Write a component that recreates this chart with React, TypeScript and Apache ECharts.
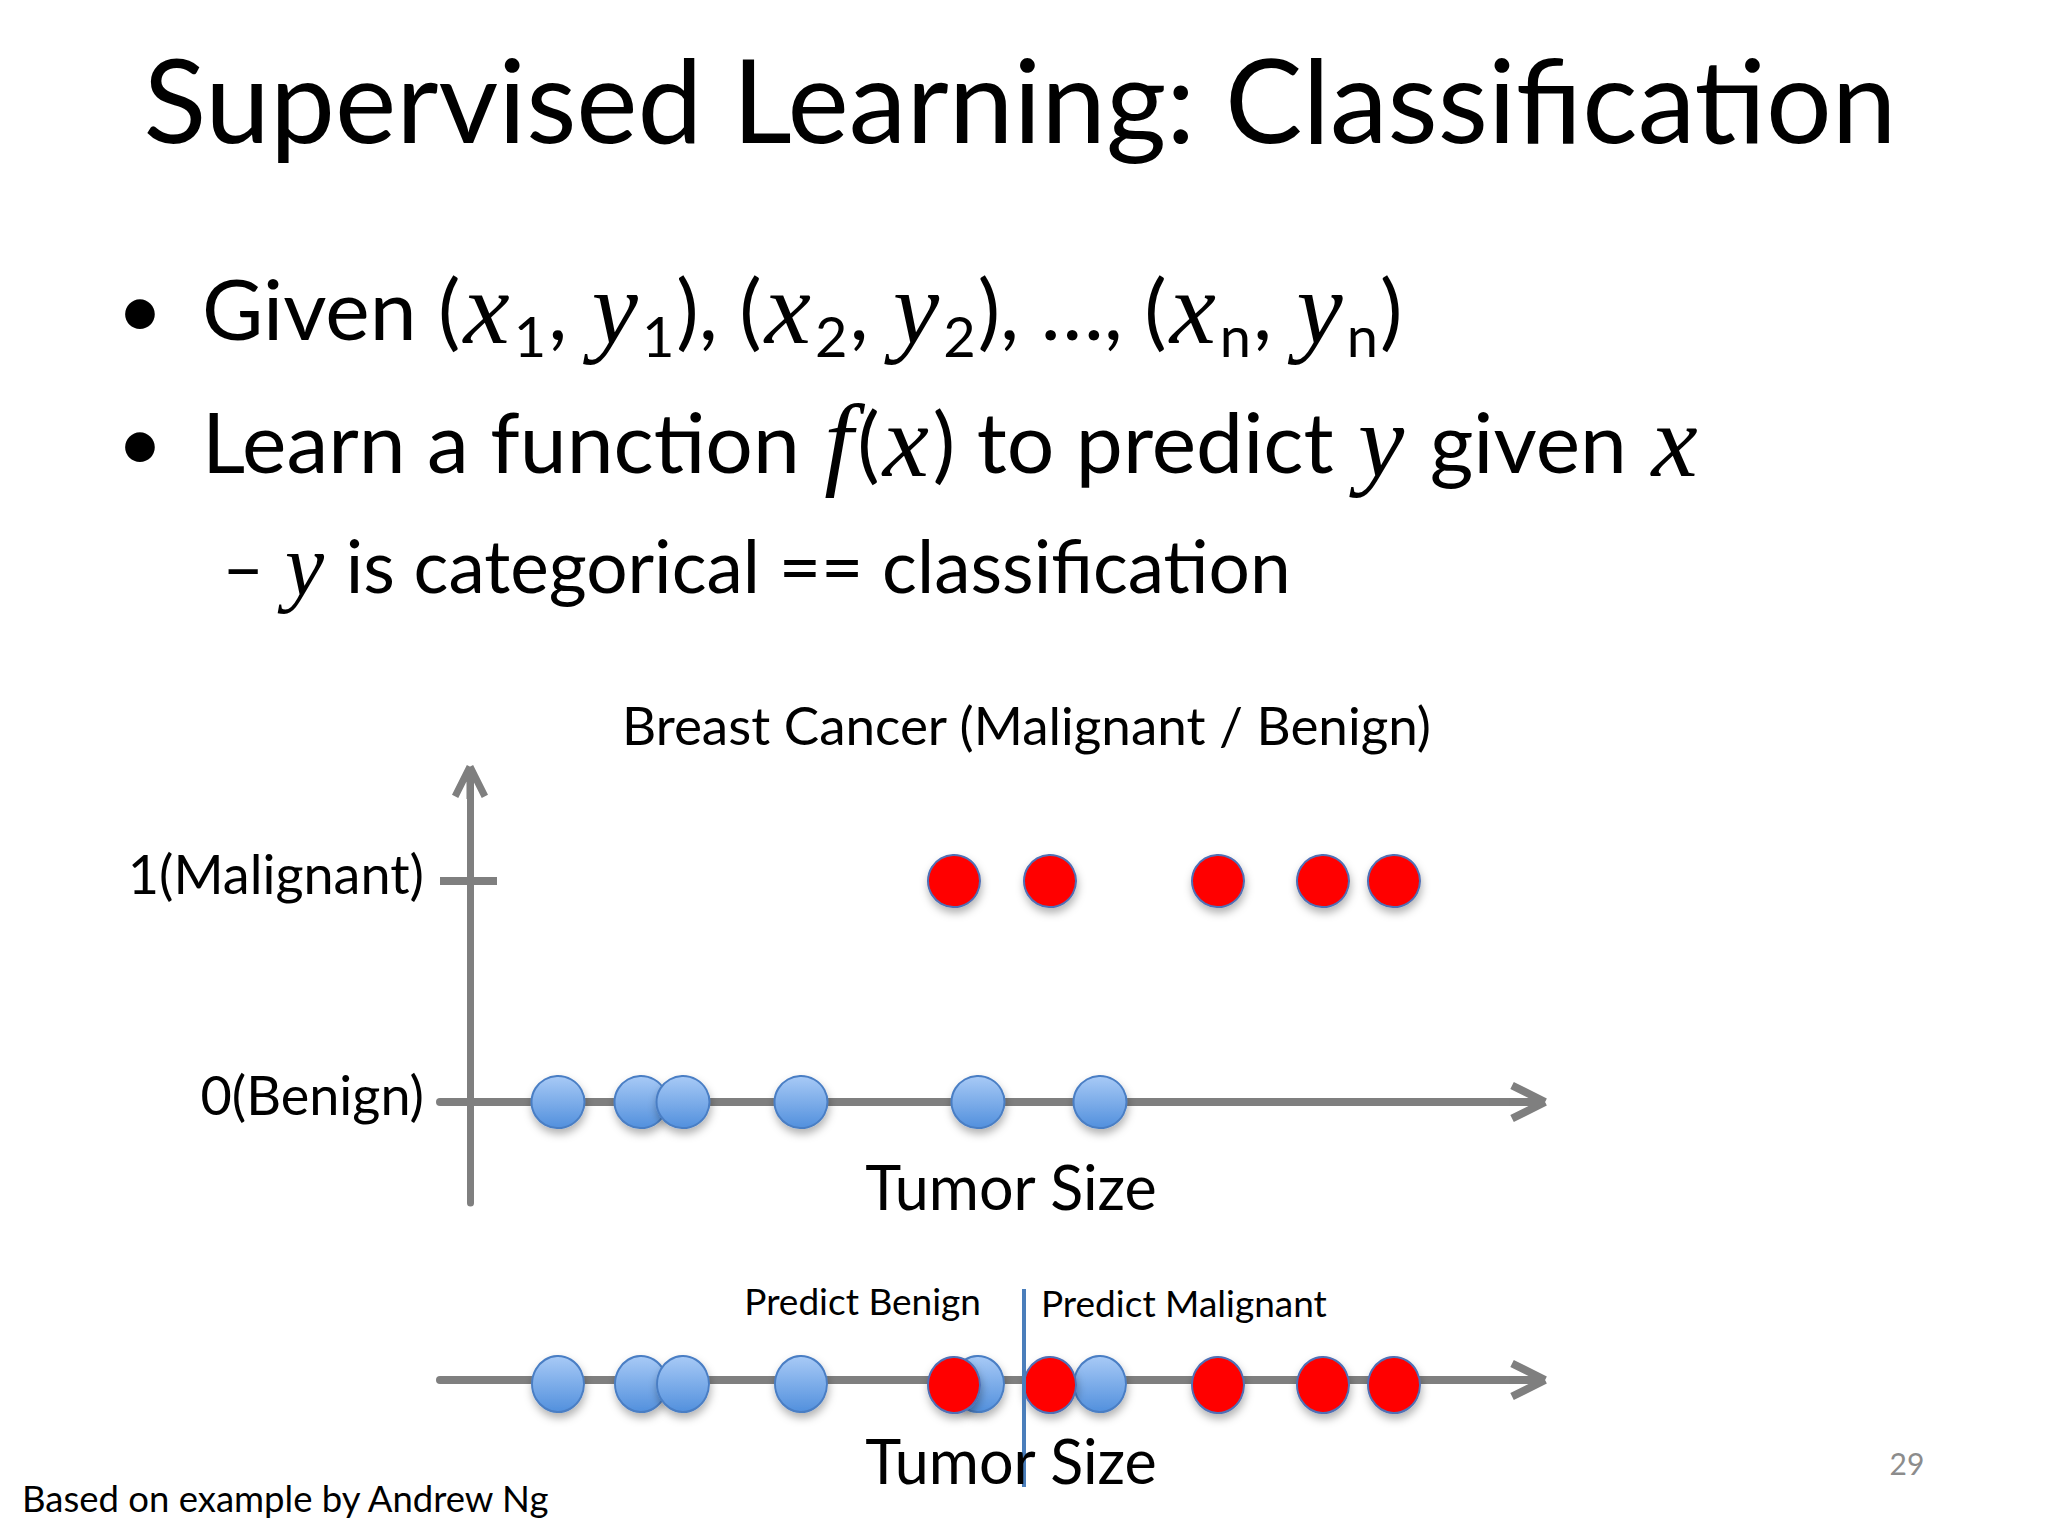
import React, { useEffect, useRef } from "react";
import * as echarts from "echarts";

// ---- data ----
const benignSizes = [8.8, 17.1, 21.3, 33.1, 50.8, 63.0];
const malignantSizes = [48.4, 58.0, 74.8, 85.3, 92.4];
const benignClass = 0;
const malignantClass = 1;
const decisionThreshold = 55.4;
const yTickValues = [0, 1];
const yTickLabels = ["0(Benign)", "1(Malignant)"];

// ---- texts ----
const slideTitle = "Supervised Learning: Classification";
const chartTitle = "Breast Cancer (Malignant / Benign)";
const xAxisName = "Tumor Size";
const regionLabels = ["Predict Benign", "Predict Malignant"];
const footnote = "Based on example by Andrew Ng";
const pageNumber = "29";

const FONT = "Lato";
const MATH = "Liberation Serif";
const AXIS_GRAY = "#7F7F7F";
const ARROW =
  "path://M6.58,38.79L23.58,4.79L16.42,1.21L-0.58,35.21Z M16.42,4.79L33.42,38.79L40.58,35.21L23.58,1.21Z M16,6L16,40L24,40L24,6Z";

const blueFill = {
  type: "linear",
  x: 0,
  y: 0,
  x2: 0,
  y2: 1,
  colorStops: [
    { offset: 0, color: "#A8CAF6" },
    { offset: 1, color: "#5290DD" },
  ],
};

const blueStyle = {
  color: blueFill,
  borderColor: "#4A7EC4",
  borderWidth: 2,
  shadowBlur: 8,
  shadowColor: "rgba(0,0,0,0.3)",
  shadowOffsetY: 5,
  shadowOffsetX: 1,
  opacity: 1,
};
const redStyle = {
  color: "#FF0000",
  borderColor: "#4F6FB5",
  borderWidth: 2,
  shadowBlur: 8,
  shadowColor: "rgba(0,0,0,0.3)",
  shadowOffsetY: 5,
  shadowOffsetX: 1,
  opacity: 1,
};

const hiddenXAxis = (gridIndex: number) => ({
  type: "value",
  gridIndex,
  min: -3,
  max: 105.8,
  axisLine: {
    onZero: true,
    symbol: ["none", ARROW],
    symbolSize: [40, 38],
    lineStyle: { color: AXIS_GRAY, width: 8 },
  },
  axisTick: { show: false },
  axisLabel: { show: false },
  splitLine: { show: false },
});

export default function App() {
  const ref = useRef<HTMLDivElement>(null);

  useEffect(() => {
    if (!ref.current) return;
    const chart = echarts.init(ref.current, null, { renderer: "svg" });

    const mathRich = {
      m: { fontFamily: MATH, fontStyle: "italic", fontSize: 104, fill: "#000", padding: [0, 4, 0, 3] },
      s: { fontFamily: FONT, fontSize: 56, padding: [56, 2, 0, 0], fill: "#000" },
    };

    const option: any = {
      animation: false,
      backgroundColor: "#FFFFFF",
      title: {
        text: chartTitle,
        left: 622,
        top: 698,
        padding: 0,
        textStyle: { fontFamily: FONT, fontSize: 53, fontWeight: "normal", color: "#000" },
      },
      grid: [
        { left: 440, right: 520, top: 782, bottom: 333, outerBoundsMode: "none", containLabel: false },
        { left: 440, right: 520, top: 1289, bottom: 49, outerBoundsMode: "none", containLabel: false },
      ],
      xAxis: [hiddenXAxis(0), hiddenXAxis(1)],
      yAxis: [
        {
          type: "value",
          gridIndex: 0,
          min: -0.457,
          max: 1.448,
          axisLine: {
            onZero: true,
            symbol: ["none", ARROW],
            symbolSize: [36, 36],
            lineStyle: { color: AXIS_GRAY, width: 7 },
          },
          axisTick: { show: false },
          axisLabel: {
            customValues: yTickValues,
            margin: 16,
            fontFamily: FONT,
            fontSize: 54,
            color: "#000",
            verticalAlign: "bottom",
            lineHeight: 16,
            formatter: (v: number) => yTickLabels[yTickValues.indexOf(Math.round(v))] ?? "",
          },
          splitLine: { show: false },
        },
        {
          type: "value",
          gridIndex: 1,
          min: -1.07,
          max: 0.91,
          show: false,
        },
      ],
      series: [
        {
          type: "scatter",
          name: "Benign",
          xAxisIndex: 0,
          yAxisIndex: 0,
          symbol: "circle",
          symbolSize: [53, 52],
          itemStyle: blueStyle,
          data: benignSizes.map((v) => [v, benignClass]),
        },
        {
          type: "scatter",
          name: "Malignant",
          xAxisIndex: 0,
          yAxisIndex: 0,
          symbol: "circle",
          symbolSize: [52, 52],
          itemStyle: redStyle,
          data: malignantSizes.map((v) => [v, malignantClass]),
          markLine: {
            silent: true,
            symbol: ["none", "none"],
            label: { show: false },
            lineStyle: { color: AXIS_GRAY, width: 8, type: "solid" },
            data: [[{ coord: [-3, malignantClass] }, { coord: [2.7, malignantClass] }]],
          },
        },
        {
          type: "scatter",
          name: "Benign (1D)",
          xAxisIndex: 1,
          yAxisIndex: 1,
          symbol: "circle",
          symbolSize: [52, 56],
          symbolOffset: [0, 4],
          itemStyle: blueStyle,
          data: benignSizes.map((v) => [v, 0]),
          markLine: {
            silent: true,
            symbol: ["none", "none"],
            label: { show: false },
            lineStyle: { color: "#4A7EBB", width: 4, type: "solid" },
            data: [{ xAxis: decisionThreshold }],
          },
        },
        {
          type: "scatter",
          name: "Malignant (1D)",
          xAxisIndex: 1,
          yAxisIndex: 1,
          symbol: "circle",
          symbolSize: [52, 56],
          symbolOffset: [0, 5],
          itemStyle: redStyle,
          data: malignantSizes.map((v) => [v, 0]),
        },
      ],
      graphic: [
        {
          type: "text",
          style: {
            text: slideTitle,
            x: 1020,
            y: 98,
            align: "center",
            verticalAlign: "middle",
            fontFamily: FONT,
            fontSize: 116,
            fill: "#000",
          },
        },
        {
          type: "text",
          style: { text: "•", x: 140, y: 307, align: "center", verticalAlign: "middle", fontFamily: FONT, fontSize: 80, fill: "#000" },
        },
        {
          type: "text",
          style: {
            text: "Given ({m|x}{s|1}, {m|y}{s|1}), ({m|x}{s|2}, {m|y}{s|2}), …, ({m|x}{s|n}, {m|y}{s|n})",
            x: 202,
            y: 307,
            align: "left",
            verticalAlign: "middle",
            fontFamily: FONT,
            fontSize: 84,
            fill: "#000",
            rich: mathRich,
          },
        },
        {
          type: "text",
          style: { text: "•", x: 140, y: 440, align: "center", verticalAlign: "middle", fontFamily: FONT, fontSize: 80, fill: "#000" },
        },
        {
          type: "text",
          style: {
            text: "Learn a function {m|f}({m|x}) to predict {m|y} given {m|x}",
            x: 202,
            y: 440,
            align: "left",
            verticalAlign: "middle",
            fontFamily: FONT,
            fontSize: 84,
            fill: "#000",
            rich: mathRich,
          },
        },
        {
          type: "text",
          style: {
            text: "– {m|y} is categorical == classification",
            x: 222,
            y: 565,
            align: "left",
            verticalAlign: "middle",
            fontFamily: FONT,
            fontSize: 73,
            fill: "#000",
            rich: { m: { fontFamily: MATH, fontStyle: "italic", fontSize: 88, fill: "#000", padding: [0, 3, 0, 2] } },
          },
        },
        {
          type: "text",
          z: 50,
          style: { text: xAxisName, x: 1011, y: 1186, align: "center", verticalAlign: "middle", fontFamily: FONT, fontSize: 61, fill: "#000" },
        },
        {
          type: "text",
          z: 50,
          style: { text: xAxisName, x: 1011, y: 1460, align: "center", verticalAlign: "middle", fontFamily: FONT, fontSize: 61, fill: "#000" },
        },
        {
          type: "text",
          style: { text: regionLabels[0], x: 981, y: 1300, align: "right", verticalAlign: "middle", fontFamily: FONT, fontSize: 37, fill: "#000" },
        },
        {
          type: "text",
          style: { text: regionLabels[1], x: 1041, y: 1302, align: "left", verticalAlign: "middle", fontFamily: FONT, fontSize: 37, fill: "#000" },
        },
        {
          type: "text",
          style: { text: footnote, x: 22, y: 1498, align: "left", verticalAlign: "middle", fontFamily: FONT, fontSize: 36.5, fill: "#000" },
        },
        {
          type: "text",
          style: { text: pageNumber, x: 1907, y: 1463, align: "center", verticalAlign: "middle", fontFamily: FONT, fontSize: 30, fill: "#8C8C8C" },
        },
      ],
    };

    chart.setOption(option);
    return () => chart.dispose();
  }, []);

  return (
    <div
      ref={ref}
      style={{ position: "fixed", left: 0, top: 0, width: 2048, height: 1536, background: "#fff" }}
    />
  );
}
